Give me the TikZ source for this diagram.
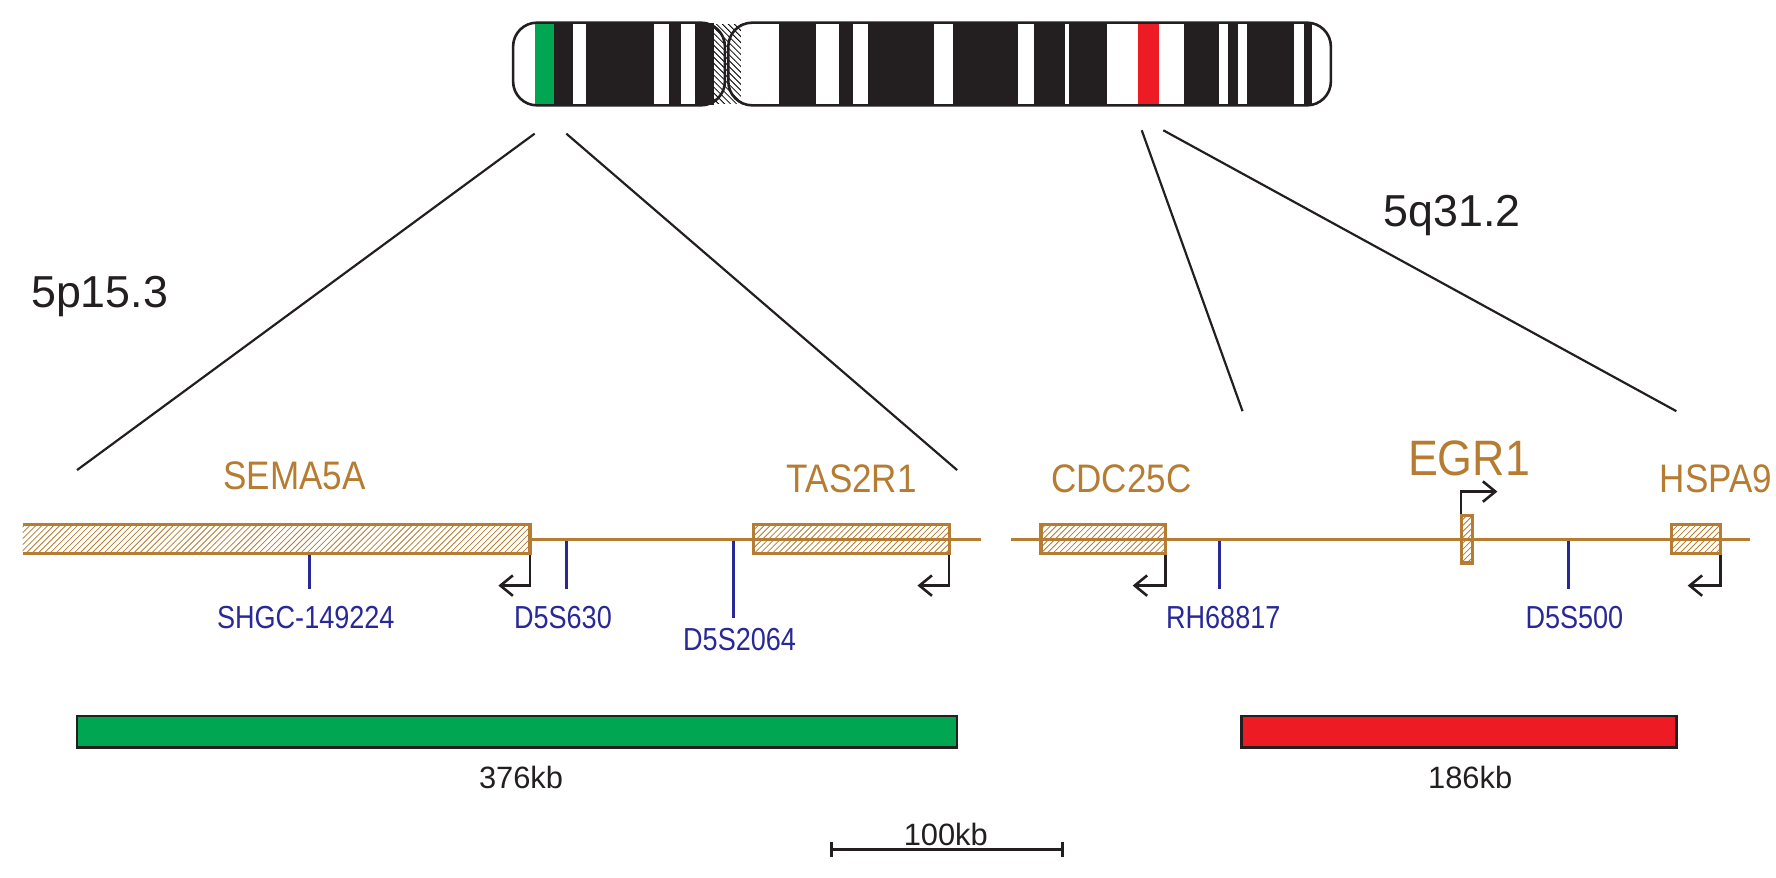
\documentclass[tikz,border=0pt]{standalone}
\usepackage{fontspec}
\setmainfont{Liberation Sans}
\usetikzlibrary{patterns}
\definecolor{genecol}{RGB}{181,124,50}
\definecolor{stscol}{RGB}{40,40,150}
\definecolor{bandcol}{RGB}{35,31,32}
\definecolor{greencol}{RGB}{0,166,81}
\definecolor{redcol}{RGB}{237,28,36}
\tikzset{
  gene/.style={draw=genecol, line width=1.6pt, pattern=north east lines, pattern color=genecol},
  track/.style={genecol, line width=1.6pt},
  sts/.style={stscol, line width=1.5pt},
  tss/.style={bandcol, line width=1.3pt, ->, >={Straight Barb[length=2.2mm,width=3.6mm]}},
  genelab/.style={genecol, font=\fontsize{20}{20}\selectfont, xscale=0.88},
  stslab/.style={stscol, font=\fontsize{16}{16}\selectfont, xscale=0.85},
  sizelab/.style={bandcol, font=\fontsize{15.5}{16}\selectfont},
}
\usetikzlibrary{arrows.meta}
\begin{document}
\begin{tikzpicture}[x=0.02cm, y=-0.02cm, inner sep=0pt]
\useasboundingbox (0,0) rectangle (1568,775);

% chromosome 5
\fill[white, rounded corners=12] (453,20) rectangle (640,93);
\fill[bandcol] (489,20) rectangle (630,93);
\fill[greencol] (472,20) rectangle (489,93);
\foreach \a/\b in {506/517, 577/591, 601/614}
  \fill[white] (\a,20) rectangle (\b,93);
\fill[white, rounded corners=12] (643,20) rectangle (1175,93);
\fill[bandcol] (688,20) rectangle (1158,93);
\foreach \a/\b in {720/741, 753/766, 825/841, 899/913, 940/944, 977/1045, 1076/1084, 1093/1101, 1142/1151}
  \fill[white] (\a,20) rectangle (\b,93);
\fill[redcol] (1005,20) rectangle (1023,93);
\fill[pattern=north west lines] (630,22) rectangle (654,91);
\draw[bandcol, line width=1.3pt, rounded corners=12] (453,20) rectangle (640,93);
\draw[bandcol, line width=1.3pt, rounded corners=12] (643,20) rectangle (1175,93);

% zoom lines
\draw[bandcol, line width=1.1pt] (472,118) -- (68,415);
\draw[bandcol, line width=1.1pt] (500,118) -- (845,415);
\draw[bandcol, line width=1.1pt] (1008,115) -- (1097,363);
\draw[bandcol, line width=1.1pt] (1027,115) -- (1480,363);
\node[bandcol, font=\fontsize{22.5}{22}\selectfont] (p) at (88,262) {5p15.3};
\node[bandcol, font=\fontsize{22.5}{22}\selectfont] (q) at (1282,190) {5q31.2};

% 5p15.3 region
\draw[track] (468,476) -- (866,476);
\fill[pattern=north east lines, pattern color=genecol] (20,463) rectangle (468,489);
\draw[genecol, line width=1.6pt] (20,463) -- (468,463) -- (468,489) -- (20,489);
\draw[gene] (665,463) rectangle (838,489);
\draw[tss] (468,490) -- (468,517) -- (440,517);
\draw[tss] (838,490) -- (838,517) -- (810,517);
\draw[sts] (273,490) -- (273,520);
\draw[sts] (500,478) -- (500,520);
\draw[sts] (648,478) -- (648,546);
\node[genelab] (sema) at (260,420) {SEMA5A};
\node[genelab] (tas) at (752,423) {TAS2R1};
\node[stslab] (shgc) at (270,545) {SHGC-149224};
\node[stslab] (d630) at (497,545) {D5S630};
\node[stslab] (d2064) at (653,565) {D5S2064};

% 5q31.2 region
\draw[track] (893,476) -- (1545,476);
\draw[gene] (919,463) rectangle (1029,489);
\draw[gene] (1290,455) rectangle (1300,497);
\draw[gene] (1476,463) rectangle (1519,489);
\draw[tss] (1029,490) -- (1029,517) -- (1000,517);
\draw[tss] (1519,490) -- (1519,517) -- (1490,517);
\draw[tss] (1290,454) -- (1290,434) -- (1322,434);
\draw[sts] (1077,478) -- (1077,520);
\draw[sts] (1385,478) -- (1385,520);
\node[genelab] (cdc) at (990,423) {CDC25C};
\node[genecol, font=\fontsize{25}{25}\selectfont, xscale=0.9] (egr) at (1297,405) {EGR1};
\node[genelab] (hspa) at (1515,423) {HSPA9};
\node[stslab] (rh) at (1080,545) {RH68817};
\node[stslab] (d500) at (1390,545) {D5S500};

% region sizes
\draw[fill=greencol, draw=bandcol, line width=1.3pt] (68,632) rectangle (845,660);
\draw[fill=redcol, draw=bandcol, line width=1.3pt] (1096,632) rectangle (1480,660);
\node[sizelab] (s376) at (460,686) {376kb};
\node[sizelab] (s186) at (1298,686) {186kb};

% scale bar
\draw[bandcol, line width=1.3pt] (734,750) -- (938,750);
\draw[bandcol, line width=1.3pt] (734,743) -- (734,757);
\draw[bandcol, line width=1.3pt] (938,743) -- (938,757);
\node[sizelab] (bar) at (835,737) {100kb};
\end{tikzpicture}
\end{document}
